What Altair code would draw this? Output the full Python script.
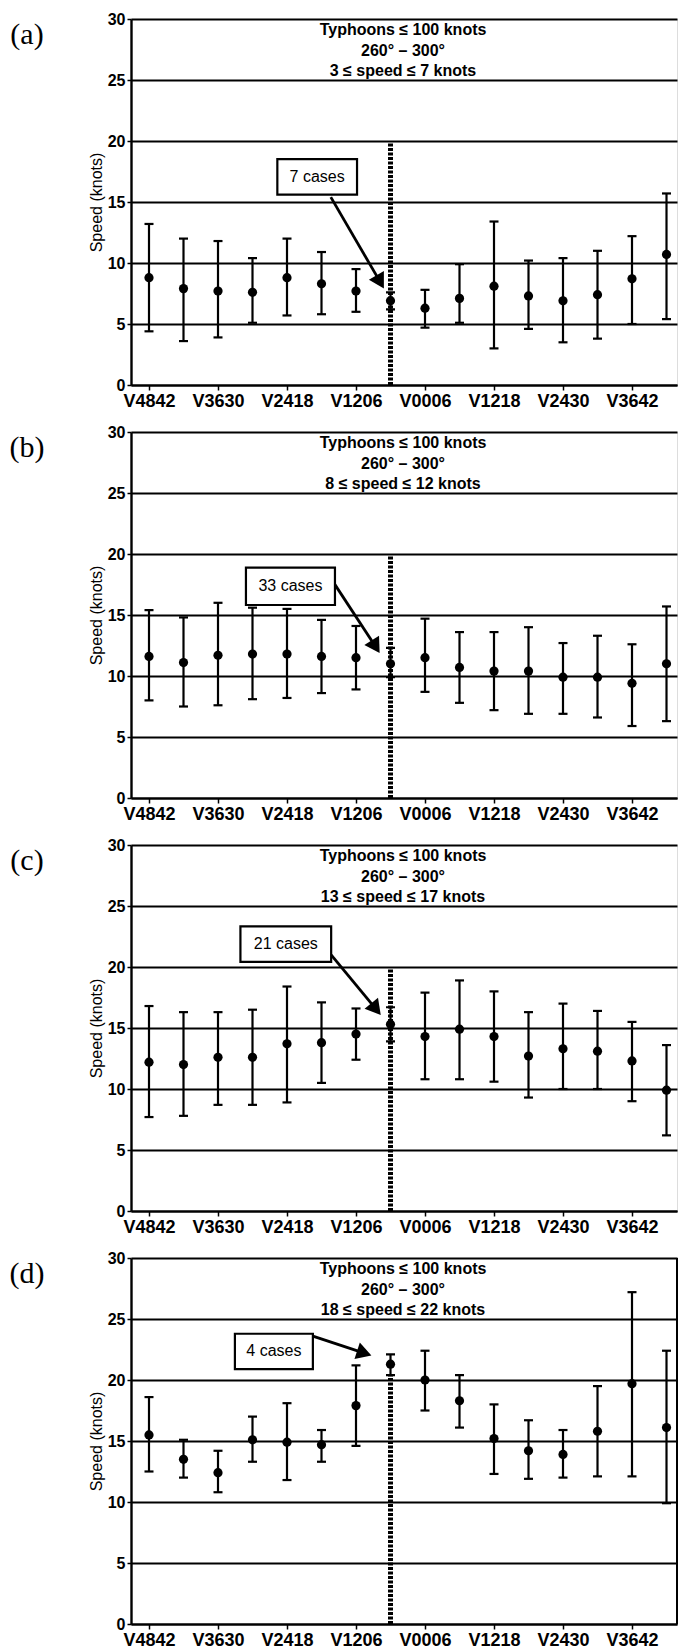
import altair as alt
import pandas as pd

# ---------------- data ----------------
categories = ["V4842", "V4236", "V3630", "V3024", "V2418", "V1812", "V1206", "V0600",
              "V0006", "V0612", "V1218", "V1824", "V2430", "V3036", "V3642", "V4248"]
shown_labels = ["V4842", "V3630", "V2418", "V1206", "V0006", "V1218", "V2430", "V3642"]

panel_letters = ["(a)", "(b)", "(c)", "(d)"]
header_line1 = "Typhoons \u2264 100 knots"
header_line2 = "260\u00b0 \u2013 300\u00b0"
speed_ranges = ["3 \u2264 speed \u2264 7 knots", "8 \u2264 speed \u2264 12 knots",
                "13 \u2264 speed \u2264 17 knots", "18 \u2264 speed \u2264 22 knots"]
cases_labels = ["7 cases", "33 cases", "21 cases", "4 cases"]

mean_a = [8.8, 7.9, 7.7, 7.6, 8.8, 8.3, 7.7, 6.9, 6.3, 7.1, 8.1, 7.3, 6.9, 7.4, 8.7, 10.7]
upper_a = [13.2, 12.0, 11.8, 10.4, 12.0, 10.9, 9.5, 7.6, 7.8, 9.9, 13.4, 10.2, 10.4, 11.0, 12.2, 15.7]
lower_a = [4.4, 3.6, 3.9, 5.1, 5.7, 5.8, 6.0, 6.2, 4.7, 5.1, 3.0, 4.6, 3.5, 3.8, 5.0, 5.4]

mean_b = [11.6, 11.1, 11.7, 11.8, 11.8, 11.6, 11.5, 11.0, 11.5, 10.7, 10.4, 10.4, 9.9, 9.9, 9.4, 11.0]
upper_b = [15.4, 14.8, 16.0, 15.6, 15.5, 14.6, 14.1, 12.3, 14.7, 13.6, 13.6, 14.0, 12.7, 13.3, 12.6, 15.7]
lower_b = [8.0, 7.5, 7.6, 8.1, 8.2, 8.6, 8.9, 9.9, 8.7, 7.8, 7.2, 6.9, 6.9, 6.6, 5.9, 6.3]

mean_c = [12.2, 12.0, 12.6, 12.6, 13.7, 13.8, 14.5, 15.3, 14.3, 14.9, 14.3, 12.7, 13.3, 13.1, 12.3, 9.9]
upper_c = [16.8, 16.3, 16.3, 16.5, 18.4, 17.1, 16.6, 16.7, 17.9, 18.9, 18.0, 16.3, 17.0, 16.4, 15.5, 13.6]
lower_c = [7.7, 7.8, 8.7, 8.7, 8.9, 10.5, 12.4, 13.9, 10.8, 10.8, 10.6, 9.3, 10.0, 10.0, 9.0, 6.2]

mean_d = [15.5, 13.5, 12.4, 15.1, 14.9, 14.7, 17.9, 21.3, 20.0, 18.3, 15.2, 14.2, 13.9, 15.8, 19.7, 16.1]
upper_d = [18.6, 15.1, 14.2, 17.0, 18.1, 15.9, 21.2, 22.1, 22.4, 20.4, 18.0, 16.7, 15.9, 19.5, 27.2, 22.4]
lower_d = [12.5, 12.0, 10.8, 13.3, 11.8, 13.3, 14.6, 20.4, 17.5, 16.1, 12.3, 11.9, 12.0, 12.1, 12.1, 9.9]

divider_index = 7
divider_top = [19.8, 20.0, 20.0, 20.4]

# annotation boxes / arrows in data units (category index, knots)
box_x0 = [3.72, 2.81, 2.65, 2.49]
box_x1 = [6.03, 5.39, 5.28, 4.75]
box_y0 = [15.6, 15.82, 20.42, 20.89]
box_y1 = [18.52, 18.89, 23.33, 23.79]
arrow_x0 = [5.27, 5.39, 5.28, 4.75]
arrow_y0 = [15.4, 17.49, 21.0, 23.6]
arrow_x1 = [6.70, 6.57, 6.58, 6.24]
arrow_y1 = [8.45, 12.4, 16.55, 22.2]
arrow_angle = [150, 148, 141, 108]

# ---------------- styling ----------------
W, H = 546, 366
SANS = "Liberation Sans"
X_MIN, X_MAX = -0.5217, 15.3043

tick_text = [c if c in shown_labels else "" for c in categories]
label_expr = "[" + ",".join("'" + t + "'" for t in tick_text) + "][datum.value]"

xs = alt.Scale(domain=[X_MIN, X_MAX], nice=False, zero=False)
ys = alt.Scale(domain=[0, 30], nice=False, zero=False)

x_axis = alt.Axis(values=list(range(16)), labelExpr=label_expr, grid=False,
                  tickSize=5, tickColor="black", tickWidth=1.5,
                  domainColor="black", domainWidth=2,
                  labelFont=SANS, labelFontSize=18, labelFontWeight="bold",
                  labelColor="black", labelPadding=2, labelOverlap=False,
                  labelFlush=False, title=None)
y_axis = alt.Axis(values=[0, 5, 10, 15, 20, 25, 30], grid=True, gridColor="black",
                  gridWidth=2, gridOpacity=1, tickSize=4, tickColor="black",
                  tickWidth=1.5, domainColor="black", domainWidth=2.4,
                  labelFont=SANS, labelFontSize=16, labelFontWeight="bold",
                  labelColor="black", labelPadding=2,
                  title="Speed (knots)", titleFont=SANS, titleFontSize=16,
                  titleFontWeight="normal", titleColor="black", titlePadding=3)


def make_panel(i, mean, upper, lower):
    df = pd.DataFrame({"idx": list(range(16)), "category": categories,
                       "mean": mean, "upper": upper, "lower": lower})
    base = alt.Chart(df)
    bars = base.mark_rule(color="black", strokeWidth=2.2).encode(
        x=alt.X("idx:Q", scale=xs, axis=x_axis),
        y=alt.Y("lower:Q", scale=ys, axis=y_axis),
        y2="upper:Q")
    cap_hi = base.mark_tick(color="black", orient="horizontal", size=9, thickness=2.2,
                            opacity=1).encode(
        x=alt.X("idx:Q", scale=xs), y=alt.Y("upper:Q", scale=ys))
    cap_lo = base.mark_tick(color="black", orient="horizontal", size=9, thickness=2.2,
                            opacity=1).encode(
        x=alt.X("idx:Q", scale=xs), y=alt.Y("lower:Q", scale=ys))
    pts = base.mark_circle(color="black", size=85, opacity=1).encode(
        x=alt.X("idx:Q", scale=xs), y=alt.Y("mean:Q", scale=ys))

    div_df = pd.DataFrame({"idx": [divider_index], "y0": [0.0], "y1": [divider_top[i]]})
    divider = alt.Chart(div_df).mark_rule(color="black", strokeWidth=5,
                                          strokeDash=[3, 1.5]).encode(
        x=alt.X("idx:Q", scale=xs), y=alt.Y("y0:Q", scale=ys), y2="y1:Q")

    box_df = pd.DataFrame({"x0": [box_x0[i]], "x1": [box_x1[i]],
                           "y0": [box_y0[i]], "y1": [box_y1[i]],
                           "xm": [(box_x0[i] + box_x1[i]) / 2],
                           "ym": [(box_y0[i] + box_y1[i]) / 2],
                           "label": [cases_labels[i]]})
    box = alt.Chart(box_df).mark_rect(fill="white", stroke="black", strokeWidth=2.2).encode(
        x=alt.X("x0:Q", scale=xs), x2="x1:Q", y=alt.Y("y0:Q", scale=ys), y2="y1:Q")
    box_text = alt.Chart(box_df).mark_text(font=SANS, fontSize=16, color="black",
                                           align="center", baseline="middle").encode(
        x=alt.X("xm:Q", scale=xs), y=alt.Y("ym:Q", scale=ys), text="label:N")

    arr_df = pd.DataFrame({"x0": [arrow_x0[i]], "y0": [arrow_y0[i]],
                           "x1": [arrow_x1[i]], "y1": [arrow_y1[i]]})
    arrow = alt.Chart(arr_df).mark_rule(color="black", strokeWidth=2.8).encode(
        x=alt.X("x0:Q", scale=xs), y=alt.Y("y0:Q", scale=ys), x2="x1:Q", y2="y1:Q")
    head = alt.Chart(arr_df).mark_point(shape="triangle-up", filled=True, color="black",
                                        size=300, opacity=1,
                                        angle=arrow_angle[i]).encode(
        x=alt.X("x1:Q", scale=xs), y=alt.Y("y1:Q", scale=ys))

    hdr = pd.DataFrame({"t": [header_line1, header_line2, speed_ranges[i]]})
    header_layers = []
    for k, yy in enumerate([16, 37, 57]):
        header_layers.append(
            alt.Chart(hdr.iloc[[k]]).mark_text(font=SANS, fontSize=16, fontWeight="bold",
                                               color="black", align="center",
                                               baseline="alphabetic").encode(
                x=alt.value(272), y=alt.value(yy), text="t:N"))

    letter = alt.Chart(pd.DataFrame({"t": [panel_letters[i]]})).mark_text(
        font="Liberation Serif", fontSize=30, color="black", align="center",
        baseline="middle").encode(x=alt.value(-104), y=alt.value(16), text="t:N")

    layers = [bars, cap_hi, cap_lo, pts, divider, arrow, head, box, box_text] + header_layers + [letter]
    if i == 3:
        border = alt.Chart(pd.DataFrame({"v": [0]})).mark_rule(
            color="black", strokeWidth=2).encode(
            x=alt.value(W), y=alt.value(0), y2=alt.value(H))
        layers.append(border)
    return alt.layer(*layers).properties(width=W, height=H)


panels = [
    make_panel(0, mean_a, upper_a, lower_a),
    make_panel(1, mean_b, upper_b, lower_b),
    make_panel(2, mean_c, upper_c, lower_c),
    make_panel(3, mean_d, upper_d, lower_d),
]

chart = alt.vconcat(*panels, spacing=47, bounds="flush").properties(
    padding={"left": 9, "top": 10, "right": 0, "bottom": 0}
).configure_view(stroke=None).configure(background="white")

chart.save("out.html", embed_options={"renderer": "svg", "actions": False})
